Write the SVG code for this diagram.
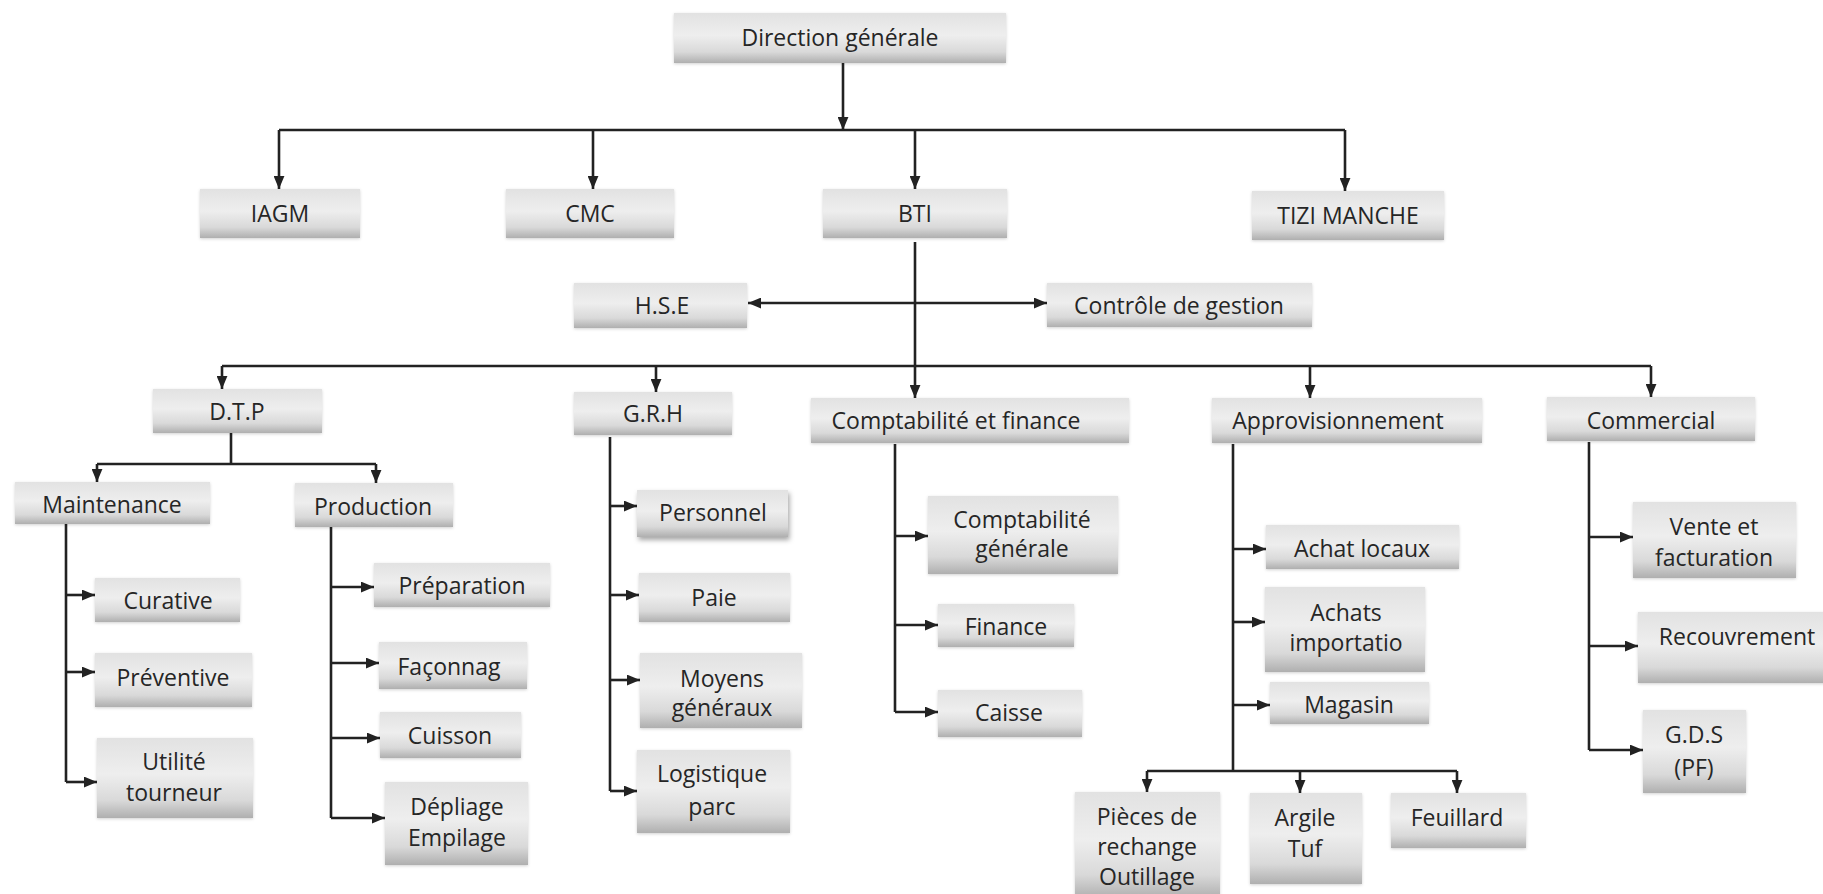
<svg xmlns="http://www.w3.org/2000/svg" width="1823" height="894" viewBox="0 0 1823 894">
  <defs>
    <linearGradient id="boxFill" x1="0" y1="0" x2="0" y2="1">
      <stop offset="0" stop-color="#e2e2e2"/>
      <stop offset="0.45" stop-color="#eeeeee"/>
      <stop offset="0.78" stop-color="#d9d9d9"/>
      <stop offset="1" stop-color="#afafaf"/>
    </linearGradient>
    <filter id="soft" x="-10%" y="-15%" width="120%" height="140%">
      <feDropShadow dx="0" dy="1" stdDeviation="1.6" flood-color="#000" flood-opacity="0.18"/>
    </filter>
    <filter id="lifted" x="-10%" y="-15%" width="125%" height="150%">
      <feDropShadow dx="1.5" dy="3" stdDeviation="2.5" flood-color="#000" flood-opacity="0.35"/>
    </filter>
    <marker id="ah" markerUnits="userSpaceOnUse" viewBox="0 0 12 10" markerWidth="13" markerHeight="11" refX="12" refY="5" orient="auto-start-reverse">
      <path d="M0,0 L12,5 L0,10 Z" fill="#222222"/>
    </marker>
  </defs>
  <style>
    .box { fill: url(#boxFill); filter: url(#soft); }
    .lift { filter: url(#lifted); }
    .t { font-family: "Open Sans", "Liberation Sans", sans-serif; font-size: 23px; fill: #262626; text-anchor: middle; }
    .c { stroke: #222222; stroke-width: 2.6; fill: none; }
    .a { marker-end: url(#ah); }
    .aa { marker-start: url(#ah); marker-end: url(#ah); }
  </style>
  <rect width="1823" height="894" fill="#ffffff"/>

  <!-- connectors -->
  <g id="connectors">
    <!-- Direction générale to subsidiaries -->
    <path class="c a" d="M843,63 V130"/>
    <path class="c" d="M279,130 H1345"/>
    <path class="c a" d="M279,130 V189"/>
    <path class="c a" d="M593,130 V189"/>
    <path class="c a" d="M915,130 V189"/>
    <path class="c a" d="M1345,130 V191"/>
    <!-- BTI trunk -->
    <path class="c a" d="M915,242 V398"/>
    <path class="c aa" d="M748,303 H1047"/>
    <!-- departments bar -->
    <path class="c" d="M222,366 H1651"/>
    <path class="c a" d="M222,366 V389"/>
    <path class="c a" d="M656,366 V392"/>
    <path class="c a" d="M1310,366 V398"/>
    <path class="c a" d="M1651,366 V397"/>
    <!-- D.T.P -->
    <path class="c" d="M231,433 V464 M97,464 H376"/>
    <path class="c a" d="M97,464 V482"/>
    <path class="c a" d="M376,464 V483"/>
    <!-- Maintenance -->
    <path class="c" d="M66,524 V782"/>
    <path class="c a" d="M66,595 H95"/>
    <path class="c a" d="M66,672 H95"/>
    <path class="c a" d="M66,782 H97"/>
    <!-- Production -->
    <path class="c" d="M331,527 V818"/>
    <path class="c a" d="M331,587 H374"/>
    <path class="c a" d="M331,663 H379"/>
    <path class="c a" d="M331,738 H380"/>
    <path class="c a" d="M331,818 H385"/>
    <!-- G.R.H -->
    <path class="c" d="M610,437 V791"/>
    <path class="c a" d="M610,506 H637"/>
    <path class="c a" d="M610,595 H639"/>
    <path class="c a" d="M610,680 H640"/>
    <path class="c a" d="M610,791 H637"/>
    <!-- Comptabilité et finance -->
    <path class="c" d="M895,444 V712"/>
    <path class="c a" d="M895,536 H928"/>
    <path class="c a" d="M895,625 H938"/>
    <path class="c a" d="M895,712 H938"/>
    <!-- Approvisionnement -->
    <path class="c" d="M1233,444 V771 M1147,771 H1457"/>
    <path class="c a" d="M1233,549 H1266"/>
    <path class="c a" d="M1233,622 H1265"/>
    <path class="c a" d="M1233,705 H1270"/>
    <path class="c a" d="M1147,771 V792"/>
    <path class="c a" d="M1300,771 V793"/>
    <path class="c a" d="M1457,771 V793"/>
    <!-- Commercial -->
    <path class="c" d="M1589,442 V750"/>
    <path class="c a" d="M1589,537 H1633"/>
    <path class="c a" d="M1589,646 H1638"/>
    <path class="c a" d="M1589,750 H1643"/>
  </g>

  <!-- top level -->
  <g id="direction-generale"><rect class="box" x="674" y="13" width="332" height="50"/><text class="t" x="840" y="46">Direction générale</text></g>
  <g id="iagm"><rect class="box" x="200" y="189" width="160" height="49"/><text class="t" x="280" y="222">IAGM</text></g>
  <g id="cmc"><rect class="box" x="506" y="189" width="168" height="49"/><text class="t" x="590" y="222">CMC</text></g>
  <g id="bti"><rect class="box" x="823" y="189" width="184" height="49"/><text class="t" x="915" y="222">BTI</text></g>
  <g id="tizi-manche"><rect class="box" x="1252" y="191" width="192" height="49"/><text class="t" x="1348" y="224">TIZI MANCHE</text></g>

  <!-- staff functions -->
  <g id="hse"><rect class="box" x="574" y="283" width="173" height="45"/><text class="t" x="662" y="314">H.S.E</text></g>
  <g id="controle-gestion"><rect class="box" x="1047" y="283" width="265" height="44"/><text class="t" x="1179" y="314">Contrôle de gestion</text></g>

  <!-- departments -->
  <g id="dtp"><rect class="box" x="153" y="389" width="169" height="44"/><text class="t" x="237" y="420">D.T.P</text></g>
  <g id="grh"><rect class="box" x="574" y="392" width="158" height="43"/><text class="t" x="653" y="422">G.R.H</text></g>
  <g id="compta-finance"><rect class="box" x="811" y="398" width="318" height="45"/><text class="t" x="956" y="429">Comptabilité et finance</text></g>
  <g id="approvisionnement"><rect class="box" x="1212" y="398" width="270" height="45"/><text class="t" x="1338" y="429">Approvisionnement</text></g>
  <g id="commercial"><rect class="box" x="1547" y="397" width="208" height="44"/><text class="t" x="1651" y="429">Commercial</text></g>

  <!-- D.T.P services -->
  <g id="maintenance"><rect class="box" x="15" y="482" width="195" height="42"/><text class="t" x="112" y="513">Maintenance</text></g>
  <g id="production"><rect class="box" x="295" y="483" width="158" height="44"/><text class="t" x="373" y="515">Production</text></g>
  <g id="curative"><rect class="box" x="95" y="578" width="145" height="44"/><text class="t" x="168" y="609">Curative</text></g>
  <g id="preventive"><rect class="box" x="95" y="653" width="157" height="54"/><text class="t" x="173" y="686">Préventive</text></g>
  <g id="utilite-tourneur"><rect class="box" x="97" y="738" width="156" height="80"/><text class="t" x="174" y="770">Utilité<tspan x="174" dy="31">tourneur</tspan></text></g>
  <g id="preparation"><rect class="box" x="374" y="563" width="176" height="44"/><text class="t" x="462" y="594">Préparation</text></g>
  <g id="faconnag"><rect class="box" x="379" y="642" width="148" height="47"/><text class="t" x="449" y="675">Façonnag</text></g>
  <g id="cuisson"><rect class="box" x="380" y="712" width="141" height="46"/><text class="t" x="450" y="744">Cuisson</text></g>
  <g id="depliage-empilage"><rect class="box" x="385" y="782" width="143" height="83"/><text class="t" x="457" y="815">Dépliage<tspan x="457" dy="31">Empilage</tspan></text></g>

  <!-- G.R.H services -->
  <g id="personnel"><rect class="box lift" x="637" y="490" width="151" height="47"/><text class="t" x="713" y="521">Personnel</text></g>
  <g id="paie"><rect class="box" x="639" y="573" width="151" height="49"/><text class="t" x="714" y="606">Paie</text></g>
  <g id="moyens-generaux"><rect class="box" x="640" y="653" width="162" height="75"/><text class="t" x="722" y="687">Moyens<tspan x="722" dy="29">généraux</tspan></text></g>
  <g id="logistique-parc"><rect class="box" x="637" y="750" width="153" height="83"/><text class="t" x="712" y="782">Logistique<tspan x="712" dy="33">parc</tspan></text></g>

  <!-- Comptabilité et finance services -->
  <g id="compta-generale"><rect class="box" x="928" y="496" width="190" height="78"/><text class="t" x="1022" y="528">Comptabilité<tspan x="1022" dy="29">générale</tspan></text></g>
  <g id="finance"><rect class="box" x="938" y="604" width="136" height="43"/><text class="t" x="1006" y="635">Finance</text></g>
  <g id="caisse"><rect class="box" x="938" y="690" width="144" height="47"/><text class="t" x="1009" y="721">Caisse</text></g>

  <!-- Approvisionnement services -->
  <g id="achat-locaux"><rect class="box" x="1266" y="525" width="193" height="44"/><text class="t" x="1362" y="557">Achat locaux</text></g>
  <g id="achats-importation"><rect class="box" x="1265" y="587" width="160" height="85"/><text class="t" x="1346" y="621">Achats<tspan x="1346" dy="30">importatio</tspan></text></g>
  <g id="magasin"><rect class="box" x="1270" y="682" width="159" height="42"/><text class="t" x="1349" y="713">Magasin</text></g>
  <g id="pieces-rechange"><rect class="box" x="1075" y="792" width="145" height="106"/><text class="t" x="1147" y="825">Pièces de<tspan x="1147" dy="30">rechange</tspan><tspan x="1147" dy="30">Outillage</tspan></text></g>
  <g id="argile-tuf"><rect class="box" x="1250" y="793" width="112" height="91"/><text class="t" x="1305" y="826">Argile<tspan x="1305" dy="31">Tuf</tspan></text></g>
  <g id="feuillard"><rect class="box" x="1391" y="793" width="135" height="55"/><text class="t" x="1457" y="826">Feuillard</text></g>

  <!-- Commercial services -->
  <g id="vente-facturation"><rect class="box" x="1633" y="502" width="163" height="76"/><text class="t" x="1714" y="535">Vente et<tspan x="1714" dy="31">facturation</tspan></text></g>
  <g id="recouvrement"><rect class="box" x="1638" y="612" width="190" height="71"/><text class="t" x="1737" y="645">Recouvrement</text></g>
  <g id="gds-pf"><rect class="box" x="1643" y="710" width="103" height="83"/><text class="t" x="1694" y="743">G.D.S<tspan x="1694" dy="33">(PF)</tspan></text></g>
</svg>
